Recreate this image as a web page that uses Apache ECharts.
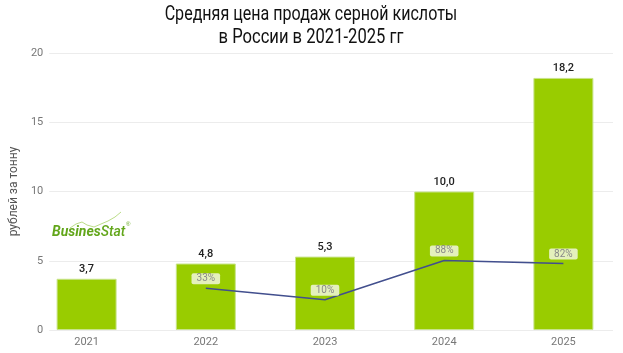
<!DOCTYPE html>
<html>
<head>
<meta charset="utf-8">
<script src="https://cdn.jsdelivr.net/npm/echarts@6/dist/echarts.min.js"></script>
<style>
  html, body { margin: 0; padding: 0; background: #fff; }
  #main { width: 623px; height: 353px; }
</style>
</head>
<body>
<div id="main"></div>
<script>
// данные
var years = ['2021', '2022', '2023', '2024', '2025'];
var price = [3.7, 4.8, 5.3, 10.0, 18.2];
var growth = [null, 33, 10, 88, 82];
var titleLines = ['Средняя цена продаж серной кислоты', 'в России в 2021-2025 гг'];

var myChart = echarts.init(document.getElementById('main'));

var titleStyle = {
    fontFamily: 'Roboto, sans-serif',
    fontSize: 21,
    fill: '#111',
    align: 'center',
    verticalAlign: 'middle'
};

var option = {
    animation: false,
    grid: [
        {left: 27, right: -4, top: 53, bottom: 23},
        {left: 39, right: 10, top: 53, bottom: 23}
    ],
    xAxis: [
        {
            type: 'category',
            gridIndex: 0,
            data: years,
            axisLine: {show: false},
            axisTick: {show: false},
            axisLabel: {color: '#777', fontSize: 11, fontFamily: 'Roboto', margin: 7}
        },
        {
            type: 'value',
            gridIndex: 1,
            show: false
        }
    ],
    yAxis: [
        {
            type: 'value',
            gridIndex: 0,
            min: 0, max: 20, interval: 5,
            show: false
        },
        {
            type: 'value',
            gridIndex: 0,
            min: -50, max: 500,
            show: false
        },
        {
            type: 'value',
            gridIndex: 1,
            min: 0, max: 20, interval: 5,
            name: 'рублей за тонну',
            nameLocation: 'middle',
            nameGap: 24,
            nameTextStyle: {color: '#555', fontSize: 12, fontFamily: 'Roboto'},
            axisLine: {show: false},
            axisTick: {show: false},
            axisLabel: {color: '#777', fontSize: 11, fontFamily: 'Roboto', margin: 6},
            splitLine: {lineStyle: {color: '#ececec', width: 1}}
        }
    ],
    graphic: [
        // заголовок (сжатый по ширине)
        {
            type: 'text',
            x: 311, y: 15,
            scaleX: 0.765,
            style: Object.assign({text: titleLines[0]}, titleStyle)
        },
        {
            type: 'text',
            x: 311, y: 38,
            scaleX: 0.79,
            style: Object.assign({text: titleLines[1]}, titleStyle)
        },
        // логотип
        {
            type: 'polyline',
            shape: {points: [[70, 228], [76, 224], [82, 222], [87, 225], [94, 227], [101, 224], [108, 221], [115, 217], [121, 212]]},
            style: {stroke: '#a9d36a', lineWidth: 0.8, fill: null}
        },
        {
            type: 'text',
            left: 52,
            top: 225,
            style: {
                text: '{a|Busines}{b|Stat}',
                rich: {
                    a: {fontSize: 14, fontWeight: 'bold', fontStyle: 'italic', fill: '#62a61a', fontFamily: 'Roboto'},
                    b: {fontSize: 14, fontWeight: 500, fontStyle: 'italic', fill: '#62a61a', fontFamily: 'Roboto'}
                }
            }
        },
        {
            type: 'text',
            left: 126,
            top: 221,
            style: {text: '®', fontSize: 6, fill: '#62a61a'}
        }
    ],
    series: [
        {
            type: 'bar',
            xAxisIndex: 0,
            yAxisIndex: 0,
            data: price,
            barWidth: 60,
            itemStyle: {color: '#99cc00', borderColor: '#c8e48a', borderWidth: 1},
            label: {
                show: true,
                position: 'top',
                distance: 4,
                color: '#222',
                fontSize: 11,
                fontWeight: 500,
                fontFamily: 'Roboto',
                formatter: function (p) {
                    return p.value.toFixed(1).replace('.', ',');
                }
            }
        },
        {
            type: 'line',
            xAxisIndex: 0,
            yAxisIndex: 1,
            data: growth,
            symbol: 'circle',
            symbolSize: 2,
            showSymbol: true,
            itemStyle: {color: 'rgba(0,0,0,0)'},
            lineStyle: {color: '#424f8e', width: 1.5},
            label: {
                show: true,
                position: 'top',
                distance: 3,
                color: '#888',
                fontSize: 10,
                lineHeight: 11,
                fontFamily: 'Roboto',
                backgroundColor: '#e4f0bc',
                padding: [0, 5],
                borderRadius: 2,
                formatter: function (p) {
                    return p.value + '%';
                }
            }
        }
    ]
};
myChart.setOption(option);
</script>
</body>
</html>
